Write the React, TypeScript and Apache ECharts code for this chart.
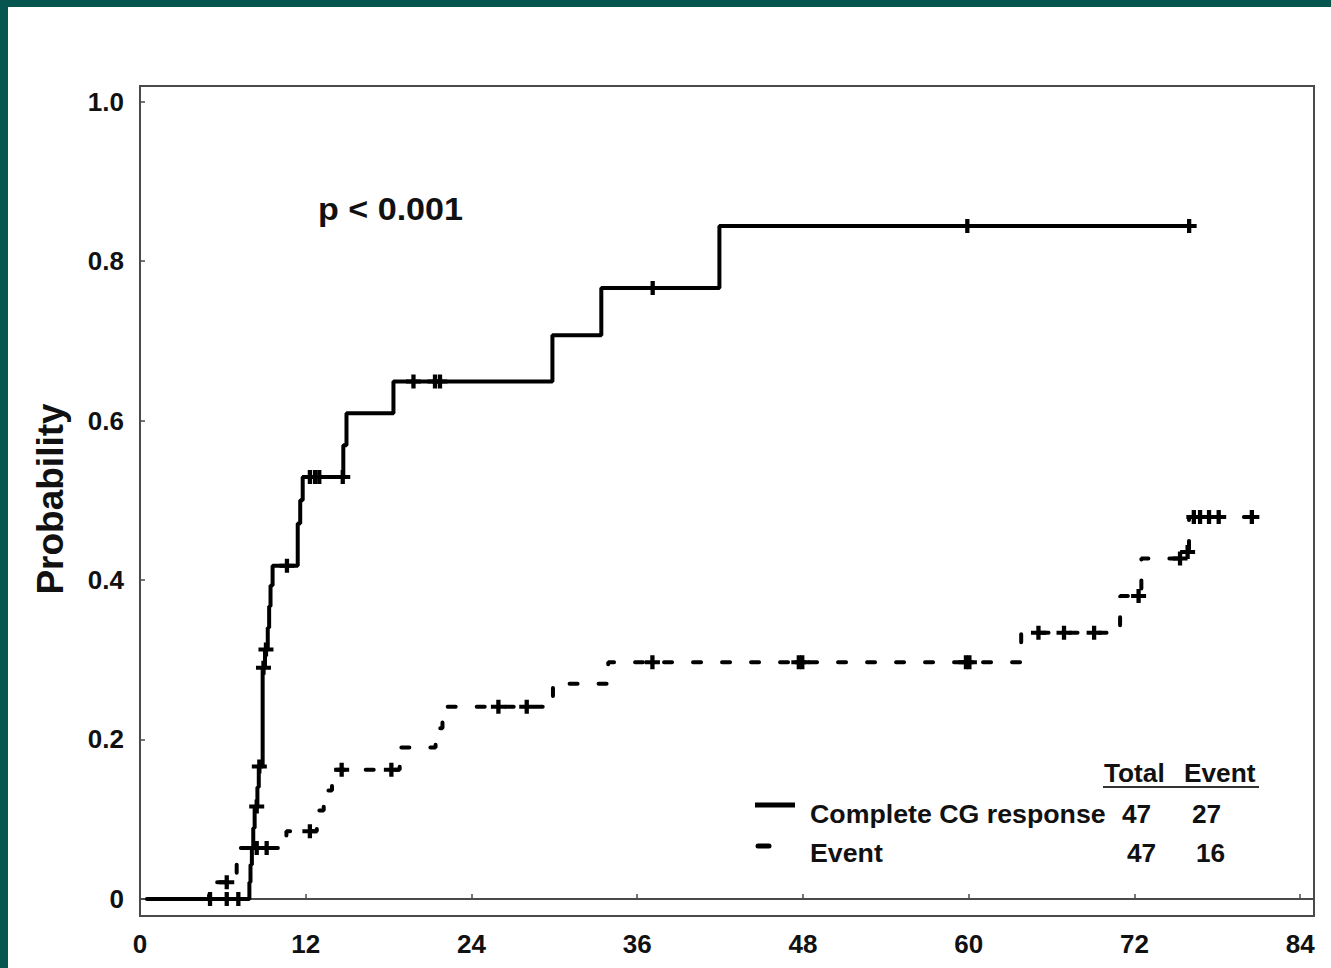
import React, { useEffect, useRef } from "react";
import * as echarts from "echarts";

// ---- axis ticks ----
const monthTicks = [0, 12, 24, 36, 48, 60, 72, 84];
const probTicks = [0, 0.2, 0.4, 0.6, 0.8, 1.0];

// ---- Complete CG response (solid) : step times / cumulative probability ----
const cgTimes = [0.5, 7.92, 8.0, 8.1, 8.2, 8.3, 8.5, 8.6, 8.88, 9.05, 9.25, 9.35, 9.45, 9.6, 11.42, 11.6, 11.78, 14.72, 14.95, 18.35, 29.86, 33.4, 41.95, 76.0];
const cgProb = [0, 0.021, 0.043, 0.064, 0.089, 0.116, 0.14, 0.166, 0.29, 0.313, 0.34, 0.367, 0.393, 0.418, 0.471, 0.5, 0.529, 0.569, 0.609, 0.649, 0.707, 0.766, 0.844, 0.844];
const cgCensorT = [5.07, 6.28, 7.12, 8.45, 8.64, 8.94, 9.12, 10.64, 12.3, 12.67, 12.98, 14.68, 19.8, 21.36, 21.72, 37.12, 59.9, 75.96];
const cgCensorP = [0, 0, 0, 0.116, 0.166, 0.29, 0.313, 0.418, 0.529, 0.529, 0.529, 0.529, 0.649, 0.649, 0.649, 0.766, 0.844, 0.844];

// ---- Event (dashed) ----
const evTimes = [0.5, 5.0, 7.0, 7.2, 10.6, 12.8, 13.3, 13.9, 18.8, 21.4, 21.9, 29.9, 33.9, 63.8, 70.96, 72.5, 75.8, 75.95, 80.8];
const evProb = [0, 0.021, 0.043, 0.064, 0.085, 0.111, 0.136, 0.162, 0.19, 0.214, 0.241, 0.27, 0.297, 0.334, 0.38, 0.427, 0.435, 0.479, 0.479];
const evCensorT = [6.28, 8.45, 9.17, 12.3, 14.6, 18.2, 25.95, 28.0, 37.1, 47.7, 47.95, 59.8, 60.05, 65.05, 66.9, 69.08, 72.3, 75.3, 75.85, 76.3, 76.75, 77.4, 78.1, 80.5];
const evCensorP = [0.021, 0.064, 0.064, 0.085, 0.162, 0.162, 0.241, 0.241, 0.297, 0.297, 0.297, 0.297, 0.297, 0.334, 0.334, 0.334, 0.38, 0.427, 0.435, 0.479, 0.479, 0.479, 0.479, 0.479];

// ---- legend table ----
const tableHeader = ["Total", "Event"];
const groupNames = ["Complete CG response", "Event"];
const groupTotals = [47, 47];
const groupEvents = [27, 16];
const pText = "p < 0.001";
const yTitle = "Probability";

const FONT = "'Liberation Sans', Arial, sans-serif";
const PLUS = "path://M5,0 H9 V5 H14 V9 H9 V14 H5 V9 H0 V5 H5 Z";

export default function App() {
  const ref = useRef<HTMLDivElement>(null);
  useEffect(() => {
    if (!ref.current) return;
    const chart = echarts.init(ref.current, null, { renderer: "svg" });
    const zip = (a: number[], b: number[]) => a.map((t, i) => [t, b[i]]);
    const txt = (text: string, x: number, y: number, size: number, extra: any = {}) => ({
      type: "text",
      x,
      y,
      style: { text, fill: "#111", font: `bold ${size}px ${FONT}`, textVerticalAlign: "middle", ...extra.style },
      ...extra.el,
    });
    chart.setOption({
      animation: false,
      backgroundColor: "#ffffff",
      grid: { left: 140, right: 17, top: 86, bottom: 52, show: true, borderColor: "#4a4a4a", borderWidth: 2 },
      xAxis: {
        type: "value",
        min: 0,
        max: 85,
        axisLine: { show: true, lineStyle: { color: "#4a4a4a", width: 2 } },
        axisTick: { show: true, inside: true, length: 5, customValues: monthTicks, lineStyle: { color: "#4a4a4a", width: 1.5 } },
        axisLabel: { customValues: monthTicks, margin: 15, color: "#111", fontWeight: "bold", fontSize: 26, fontFamily: FONT },
        splitLine: { show: false },
      },
      yAxis: {
        type: "value",
        min: -0.02132,
        max: 1.01944,
        axisLine: { show: true, lineStyle: { color: "#4a4a4a", width: 2 } },
        axisTick: { show: true, inside: true, length: 5, customValues: probTicks, lineStyle: { color: "#4a4a4a", width: 1.5 } },
        axisLabel: {
          customValues: probTicks,
          margin: 16,
          color: "#111",
          fontWeight: "bold",
          fontSize: 26,
          fontFamily: FONT,
          formatter: (v: number) => (v === 0 ? "0" : v.toFixed(1)),
        },
        splitLine: { show: false },
      },
      series: [
        {
          type: "line",
          step: "end",
          data: zip(cgTimes, cgProb),
          symbol: "none",
          lineStyle: { color: "#000", width: 4 },
          z: 3,
        },
        {
          type: "line",
          step: "end",
          data: zip(evTimes, evProb),
          symbol: "none",
          lineStyle: { color: "#000", width: 4, type: [8, 21], cap: "round" },
          z: 3,
        },
        {
          type: "scatter",
          data: zip(cgCensorT, cgCensorP),
          symbol: PLUS,
          symbolSize: [15, 14],
          itemStyle: { color: "#000", opacity: 1 },
          z: 4,
        },
        {
          type: "scatter",
          data: zip(evCensorT, evCensorP),
          symbol: PLUS,
          symbolSize: [15, 14],
          itemStyle: { color: "#000", opacity: 1 },
          z: 4,
        },
      ],
      graphic: [
        { type: "rect", shape: { x: 0, y: 0, width: 1331, height: 7 }, style: { fill: "#06554f" }, z: 10 },
        { type: "rect", shape: { x: 0, y: 0, width: 8, height: 968 }, style: { fill: "#06554f" }, z: 10 },
        txt(yTitle, 50, 499, 37, { el: { rotation: Math.PI / 2 }, style: { textAlign: "center" } }),
        txt(pText, 318, 210, 31, { el: { scaleX: 1.1 } }),
        txt(tableHeader[0], 1104, 773, 25, { el: { scaleX: 1.05 } }),
        txt(tableHeader[1], 1184, 773, 25, { el: { scaleX: 1.05 } }),
        { type: "line", shape: { x1: 1103, y1: 787, x2: 1259, y2: 787 }, style: { stroke: "#333", lineWidth: 2 } },
        { type: "line", shape: { x1: 755, y1: 805, x2: 795, y2: 805 }, style: { stroke: "#000", lineWidth: 5 } },
        { type: "line", shape: { x1: 758, y1: 846, x2: 769, y2: 846 }, style: { stroke: "#000", lineWidth: 5, lineCap: "round" } },
        txt(groupNames[0], 810, 814, 25, { el: { scaleX: 1.07 } }),
        txt(String(groupTotals[0]), 1122, 814, 25, { el: { scaleX: 1.05 } }),
        txt(String(groupEvents[0]), 1192, 814, 25, { el: { scaleX: 1.05 } }),
        txt(groupNames[1], 810, 853, 25, { el: { scaleX: 1.07 } }),
        txt(String(groupTotals[1]), 1127, 853, 25, { el: { scaleX: 1.05 } }),
        txt(String(groupEvents[1]), 1196, 853, 25, { el: { scaleX: 1.05 } }),
      ],
    });
    return () => chart.dispose();
  }, []);
  return <div ref={ref} style={{ position: "fixed", left: 0, top: 0, width: 1331, height: 968 }} />;
}
